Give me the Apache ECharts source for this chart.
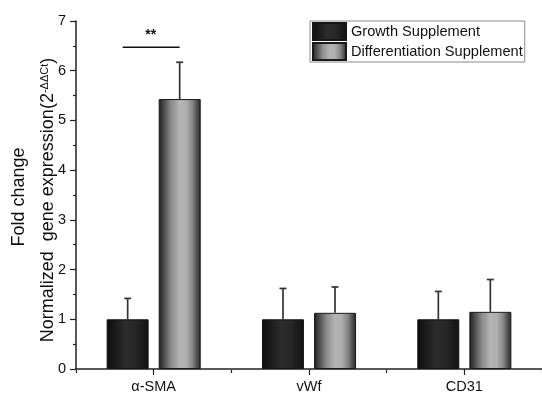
<!DOCTYPE html>
<html>
<head>
<meta charset="utf-8">
<script src="https://cdn.jsdelivr.net/npm/echarts@6/dist/echarts.min.js"></script>
<style>
  html, body { margin: 0; padding: 0; background: #fff; }
  #chart { width: 542px; height: 394px; }
</style>
</head>
<body>
<div id="chart"></div>
<script>
// Gene markers and relative expression (2^-ΔΔCt), mean and upper error (mean + SD)
const genes = ['α-SMA', 'vWf', 'CD31'];
const seriesNames = ['Growth Supplement', 'Differentiation Supplement'];
const growthMean = [1.0, 1.0, 1.0];
const growthUpper = [1.42, 1.62, 1.56];
const diffMean = [5.43, 1.13, 1.15];
const diffUpper = [6.17, 1.65, 1.80];
const yTicks = [0, 1, 2, 3, 4, 5, 6, 7];
// significance bracket over α-SMA
const sigGene = 0;
const sigLevel = 6.47;
const sigText = '**';

const FONT = 'Arial, "Liberation Sans", sans-serif';
const BAR_W = 42;
const HALF_SPACING = 26; // distance from category centre to each bar centre

const growthFill = {
  type: 'linear', x: 0, y: 0, x2: 1, y2: 0,
  colorStops: [
    { offset: 0, color: '#0c0c0c' },
    { offset: 0.45, color: '#2c2c2c' },
    { offset: 0.7, color: '#262626' },
    { offset: 1, color: '#101010' }
  ]
};
const diffFill = {
  type: 'linear', x: 0, y: 0, x2: 1, y2: 0,
  colorStops: [
    { offset: 0, color: '#1e1e1e' },
    { offset: 0.12, color: '#4a4a4a' },
    { offset: 0.3, color: '#8c8c8c' },
    { offset: 0.5, color: '#b4b4b4' },
    { offset: 0.65, color: '#b0b0b0' },
    { offset: 0.8, color: '#888888' },
    { offset: 0.92, color: '#4c4c4c' },
    { offset: 1, color: '#262626' }
  ]
};

function errorSeries(name, means, uppers, side) {
  return {
    type: 'custom',
    name: name + ' error',
    xAxisIndex: 0, yAxisIndex: 0,
    z: 1,
    silent: true,
    data: means.map((m, i) => [i, m, uppers[i]]),
    renderItem: function (params, api) {
      const base = api.coord([api.value(0), api.value(1)]);
      const top = api.coord([api.value(0), api.value(2)]);
      const x = base[0] + side * HALF_SPACING;
      const style = { stroke: '#333', lineWidth: 1.7 };
      return {
        type: 'group',
        children: [
          { type: 'line', shape: { x1: x, y1: base[1], x2: x, y2: top[1] }, style: style },
          { type: 'line', shape: { x1: x - 3.5, y1: top[1], x2: x + 3.5, y2: top[1] }, style: style }
        ]
      };
    }
  };
}

const chart = echarts.init(document.getElementById('chart'), null, { renderer: 'canvas' });

chart.setOption({
  animation: false,
  backgroundColor: '#fff',
  textStyle: { fontFamily: FONT },
  grid: [
    { left: 76, top: 21, width: 469, height: 349, containLabel: false },
    { left: 76, top: 21, width: 469, height: 349, containLabel: false }
  ],
  legend: {
    data: seriesNames,
    orient: 'vertical',
    left: 310,
    top: 21,
    itemWidth: 33,
    itemHeight: 17,
    itemGap: 1,
    padding: [1, 2, 1, 2],
    borderColor: '#8a8a8a',
    borderWidth: 1,
    icon: 'rect',
    selectedMode: false,
    textStyle: { fontFamily: FONT, fontSize: 14.6, color: '#111', padding: [0, 0, 0, 0] }
  },
  xAxis: [
    {
      type: 'category',
      gridIndex: 0,
      data: genes,
      boundaryGap: true,
      axisLine: { show: true, lineStyle: { color: '#222', width: 1.5 } },
      axisTick: { show: true, alignWithLabel: true, length: 6, lineStyle: { color: '#222', width: 1.2 } },
      axisLabel: { fontFamily: FONT, fontSize: 14.5, color: '#111', margin: 10 }
    },
    {
      type: 'category',
      gridIndex: 1,
      data: genes,
      boundaryGap: true,
      axisLine: { show: false },
      axisTick: { show: true, length: 3, lineStyle: { color: '#222', width: 1.2 } },
      axisLabel: { show: false }
    }
  ],
  yAxis: [
    {
      type: 'value',
      gridIndex: 0,
      min: yTicks[0],
      max: yTicks[yTicks.length - 1],
      interval: 1,
      axisLine: { show: true, lineStyle: { color: '#222', width: 1.5 } },
      axisTick: { show: true, length: 6, lineStyle: { color: '#222', width: 1.2 } },
      minorTick: { show: true, splitNumber: 2, length: 3, lineStyle: { color: '#222', width: 1.2 } },
      splitLine: { show: false },
      axisLabel: { fontFamily: FONT, fontSize: 14.5, color: '#111', margin: 10 }
    },
    {
      type: 'value',
      gridIndex: 1,
      min: yTicks[0],
      max: yTicks[yTicks.length - 1],
      show: false
    }
  ],
  series: [
    {
      name: seriesNames[0],
      type: 'bar',
      xAxisIndex: 0, yAxisIndex: 0,
      barWidth: BAR_W,
      barGap: '24%',
      z: 2,
      data: growthMean,
      itemStyle: { color: growthFill, borderColor: '#151515', borderWidth: 1 }
    },
    {
      name: seriesNames[1],
      type: 'bar',
      xAxisIndex: 0, yAxisIndex: 0,
      barWidth: BAR_W,
      barGap: '24%',
      z: 2,
      data: diffMean,
      itemStyle: { color: diffFill, borderColor: '#1a1a1a', borderWidth: 1 }
    },
    errorSeries(seriesNames[0], growthMean, growthUpper, -1),
    errorSeries(seriesNames[1], diffMean, diffUpper, 1),
    {
      type: 'custom',
      name: 'significance',
      xAxisIndex: 0, yAxisIndex: 0,
      silent: true,
      data: [[sigGene, sigLevel]],
      renderItem: function (params, api) {
        const p = api.coord([api.value(0), api.value(1)]);
        return {
          type: 'group',
          children: [
            { type: 'line', shape: { x1: p[0] - 31, y1: p[1], x2: p[0] + 26, y2: p[1] },
              style: { stroke: '#111', lineWidth: 1.5 } },
            { type: 'text', x: p[0] - 3, y: p[1] - 12,
              style: { text: sigText, font: 'bold 14px ' + FONT, fill: '#111',
                       align: 'center', verticalAlign: 'middle' } }
          ]
        };
      }
    }
  ],
  graphic: [
    {
      type: 'text',
      x: 19, y: 197,
      rotation: Math.PI / 2,
      style: {
        text: 'Fold change',
        font: '18px ' + FONT,
        fill: '#111',
        align: 'center',
        verticalAlign: 'middle'
      }
    },
    {
      type: 'text',
      x: 48, y: 200,
      rotation: Math.PI / 2,
      style: {
        text: 'Normalized  gene expression(2{s|-ΔΔCt})',
        font: '18px ' + FONT,
        fill: '#111',
        align: 'center',
        verticalAlign: 'middle',
        rich: {
          s: { fontSize: 11, fontFamily: FONT, fill: '#111', verticalAlign: 'top', lineHeight: 12 }
        }
      }
    }
  ]
});
</script>
</body>
</html>
